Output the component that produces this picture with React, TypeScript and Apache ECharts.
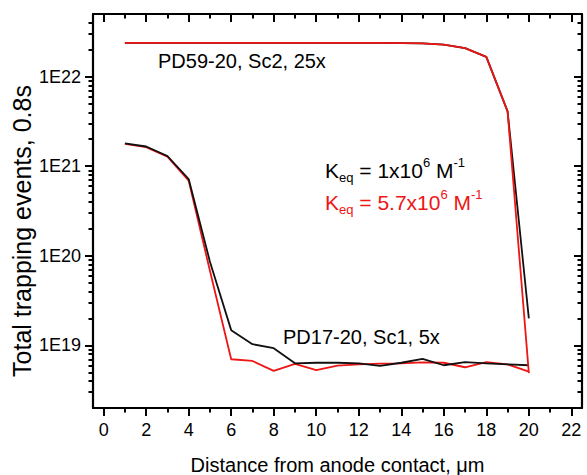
import React, { useEffect, useRef } from "react";
import * as echarts from "echarts";

// ---- data ----
const positions = [1, 2, 3, 4, 5, 6, 7, 8, 9, 10, 11, 12, 13, 14, 15, 16, 17, 18, 19, 20];

// PD59-20, Sc2, 25x  (upper pair)
const upperK1 = [2.38e22, 2.38e22, 2.38e22, 2.38e22, 2.38e22, 2.38e22, 2.38e22, 2.38e22, 2.38e22, 2.38e22, 2.38e22, 2.38e22, 2.38e22, 2.37e22, 2.35e22, 2.28e22, 2.08e22, 1.66e22, 4.1e21, 2.0e19];
const upperK57 = [2.38e22, 2.38e22, 2.38e22, 2.38e22, 2.38e22, 2.38e22, 2.38e22, 2.38e22, 2.38e22, 2.38e22, 2.38e22, 2.38e22, 2.38e22, 2.37e22, 2.35e22, 2.28e22, 2.08e22, 1.66e22, 4.1e21, 4.9e18];

// PD17-20, Sc1, 5x  (lower pair)
const lowerK1 = [1.8e21, 1.66e21, 1.3e21, 7.2e20, 8.6e19, 1.48e19, 1.03e19, 9.3e18, 6.3e18, 6.4e18, 6.4e18, 6.3e18, 5.9e18, 6.4e18, 7.05e18, 6.0e18, 6.5e18, 6.3e18, 6.15e18, 6.0e18];
const lowerK57 = [1.78e21, 1.63e21, 1.28e21, 6.9e20, 6.8e19, 7.0e18, 6.7e18, 5.2e18, 6.2e18, 5.3e18, 5.95e18, 6.15e18, 6.25e18, 6.3e18, 6.47e18, 6.4e18, 5.7e18, 6.5e18, 6.15e18, 5.1e18];

const xMajorTicks = [0, 2, 4, 6, 8, 10, 12, 14, 16, 18, 20, 22];
const xMinorTicks = [1, 3, 5, 7, 9, 11, 13, 15, 17, 19, 21];
const yMajorTicks = [1e19, 1e20, 1e21, 1e22];
const yMinorTicks = [
  2e18, 3e18, 4e18, 5e18, 6e18, 7e18, 8e18, 9e18,
  2e19, 3e19, 4e19, 5e19, 6e19, 7e19, 8e19, 9e19,
  2e20, 3e20, 4e20, 5e20, 6e20, 7e20, 8e20, 9e20,
  2e21, 3e21, 4e21, 5e21, 6e21, 7e21, 8e21, 9e21,
  2e22, 3e22, 4e22, 5e22,
];

const X_MIN = -0.5;
const X_MAX = 22.5;
const Y_MIN = 2e18;
const Y_MAX = 5e22;

const FONT = "'Liberation Sans', Arial, Helvetica, sans-serif";
const RED = "#ee1515";
const BLACK = "#111111";

const pairs = (vals: number[]) => positions.map((x, i) => [x, vals[i]]);

function xAxisDef(position: "bottom" | "top", ticks: number[], len: number, inside: boolean, showLine: boolean, labels: boolean, name?: string) {
  return {
    type: "value",
    min: X_MIN,
    max: X_MAX,
    position,
    name,
    nameLocation: "middle",
    nameGap: 47,
    nameTextStyle: { fontSize: 20, fontFamily: FONT, color: "#000" },
    axisLine: { show: showLine, onZero: false, lineStyle: { color: "#000", width: 2.2 } },
    axisTick: { show: true, inside, length: len, customValues: ticks, lineStyle: { color: "#000", width: 2 } },
    axisLabel: {
      show: labels,
      customValues: ticks,
      fontSize: 18,
      fontFamily: FONT,
      color: "#000",
      margin: 13,
    },
    splitLine: { show: false },
  };
}

function yAxisDef(position: "left" | "right", ticks: number[], len: number, inside: boolean, showLine: boolean, labels: boolean) {
  return {
    type: "log",
    logBase: 10,
    min: Y_MIN,
    max: Y_MAX,
    position,
    axisLine: { show: showLine, onZero: false, lineStyle: { color: "#000", width: 2.2 } },
    axisTick: { show: true, inside, length: len, customValues: ticks, lineStyle: { color: "#000", width: 2 } },
    axisLabel: {
      show: labels,
      customValues: ticks,
      fontSize: 18,
      fontFamily: FONT,
      color: "#000",
      margin: 12,
      formatter: (v: number) => "1E" + Math.round(Math.log10(v)),
    },
    splitLine: { show: false },
    minorTick: { show: false },
  };
}

function keqText(value: string, color: string) {
  return {
    text: `{k|K}{s|eq}{k| = ${value}x10}{p|6}{k| M}{p|-1}`,
    fill: color,
    verticalAlign: "middle",
    align: "left",
    rich: {
      k: { fontSize: 21, fontFamily: FONT, fill: color, lineHeight: 28, verticalAlign: "middle" },
      s: { fontSize: 13, fontFamily: FONT, fill: color, lineHeight: 14, verticalAlign: "bottom" },
      p: { fontSize: 13, fontFamily: FONT, fill: color, lineHeight: 18, verticalAlign: "top" },
    },
  };
}

export default function App() {
  const ref = useRef<HTMLDivElement>(null);
  useEffect(() => {
    if (!ref.current) return;
    const chart = echarts.init(ref.current, null, { renderer: "svg" });
    const lineStyle = (c: string) => ({ color: c, width: 1.8 });
    chart.setOption({
      animation: false,
      backgroundColor: "#fff",
      grid: { left: 93, top: 14, right: 5, bottom: 67, containLabel: false, outerBoundsMode: "none" },
      xAxis: [
        xAxisDef("bottom", xMajorTicks, 8, false, true, true, "Distance from anode contact, \u03bcm"),
        xAxisDef("bottom", xMinorTicks, 4.5, false, false, false),
        xAxisDef("top", xMajorTicks, 8, true, true, false),
        xAxisDef("top", xMinorTicks, 4.5, true, false, false),
      ],
      yAxis: [
        yAxisDef("left", yMajorTicks, 8, false, true, true),
        yAxisDef("left", yMinorTicks, 4.5, false, false, false),
        yAxisDef("right", yMajorTicks, 8, true, true, false),
        yAxisDef("right", yMinorTicks, 4.5, true, false, false),
      ],
      series: [
        { type: "line", name: "PD17-20 K=5.7e6", data: pairs(lowerK57), symbol: "none", lineStyle: lineStyle(RED), itemStyle: { color: RED }, z: 2 },
        { type: "line", name: "PD17-20 K=1e6", data: pairs(lowerK1), symbol: "none", lineStyle: lineStyle(BLACK), itemStyle: { color: BLACK }, z: 3 },
        { type: "line", name: "PD59-20 K=1e6", data: pairs(upperK1), symbol: "none", lineStyle: lineStyle(BLACK), itemStyle: { color: BLACK }, z: 4 },
        { type: "line", name: "PD59-20 K=5.7e6", data: pairs(upperK57), symbol: "none", lineStyle: lineStyle(RED), itemStyle: { color: RED }, z: 5 },
      ],
      graphic: [
        {
          type: "text",
          x: 158,
          y: 61,
          style: { text: "PD59-20, Sc2, 25x", fontSize: 20, fontFamily: FONT, fill: "#000", verticalAlign: "middle", align: "left" },
        },
        {
          type: "text",
          x: 283,
          y: 337,
          style: { text: "PD17-20, Sc1, 5x", fontSize: 20, fontFamily: FONT, fill: "#000", verticalAlign: "middle", align: "left" },
        },
        { type: "text", x: 325, y: 170, style: keqText("1", "#000") },
        { type: "text", x: 325, y: 202, style: keqText("5.7", RED) },
        {
          type: "text",
          x: 22,
          y: 231,
          rotation: Math.PI / 2,
          style: { text: "Total trapping events, 0.8s", fontSize: 25, fontFamily: FONT, fill: "#000", align: "center", verticalAlign: "middle" },
        },
      ],
    });
    return () => chart.dispose();
  }, []);
  return <div ref={ref} style={{ position: "fixed", left: 0, top: 0, width: 587, height: 475, background: "#fff" }} />;
}
